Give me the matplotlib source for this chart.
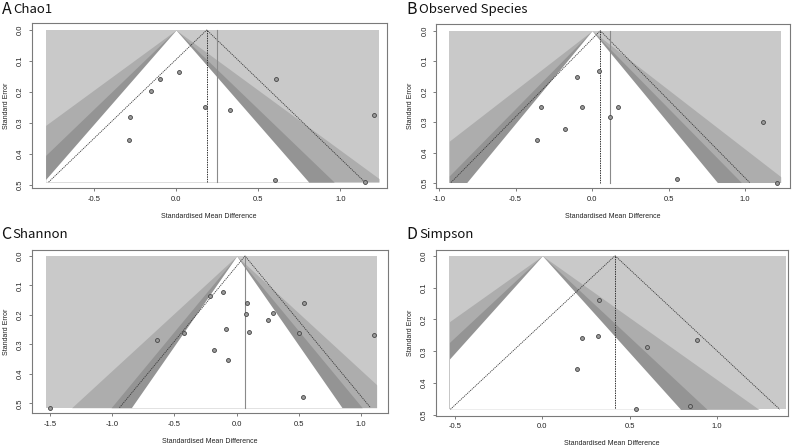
import numpy as np
import matplotlib
matplotlib.use("Agg")
import matplotlib.pyplot as plt

plt.rcParams['font.family'] = ['Liberation Sans', 'DejaVu Sans']

# contour levels (z for p = 0.10, 0.05, 0.01)
z_levels = [2.576, 1.96, 1.645]
shade_cols = ['#adadad', '#949494', 'white']
back_col = '#c9c9c9'

# A  Chao1
chao1_smd = [-0.097, 0.02, -0.152, -0.28, -0.284, 0.174, 0.331, 0.608, 0.604, 1.148, 1.205]
chao1_se = [0.159, 0.135, 0.196, 0.28, 0.355, 0.249, 0.258, 0.158, 0.485, 0.491, 0.273]
chao1_est = 0.187
chao1_adj = 0.249

# B  Observed Species
obs_smd = [0.046, -0.10, -0.333, -0.063, 0.172, 0.116, -0.176, -0.36, 0.555, 1.12, 1.207]
obs_se = [0.131, 0.151, 0.249, 0.25, 0.251, 0.284, 0.322, 0.357, 0.485, 0.30, 0.498]
obs_est = 0.054
obs_adj = 0.118

# C  Shannon
shannon_smd = [-1.5, -0.643, -0.42, -0.214, -0.107, -0.088, -0.185, -0.072, 0.083,
               0.078, 0.10, 0.295, 0.254, 0.538, 0.50, 1.104, 0.536]
shannon_se = [0.515, 0.285, 0.262, 0.136, 0.121, 0.249, 0.319, 0.352, 0.158,
              0.196, 0.257, 0.195, 0.218, 0.158, 0.26, 0.267, 0.48]
shannon_est = 0.067
shannon_adj = 0.064

# D  Simpson
simpson_smd = [0.325, 0.226, 0.317, 0.598, 0.885, 0.197, 0.535, 0.847]
simpson_se = [0.138, 0.258, 0.252, 0.287, 0.266, 0.356, 0.482, 0.473]
simpson_est = 0.417
simpson_adj = None

xticks_a = [-0.5, 0.0, 0.5, 1.0]
xticks_b = [-1.0, -0.5, 0.0, 0.5, 1.0]
xticks_c = [-1.5, -1.0, -0.5, 0.0, 0.5, 1.0]
xticks_d = [-0.5, 0.0, 0.5, 1.0]
yticks = [0.0, 0.1, 0.2, 0.3, 0.4, 0.5]

W, H = 800, 447
fig = plt.figure(figsize=(W / 100, H / 100), dpi=100)


def funnel(box, smd, se, est, adj, shade_x, se_max, view_x, view_y, xticks, title, title_pos):
    l, t, r, b = box
    ax = fig.add_axes([l / W, 1 - b / H, (r - l) / W, (b - t) / H])
    xlo, xhi = shade_x
    ax.fill_between([xlo, xhi], 0, se_max, color=back_col, lw=0, zorder=1)
    s = np.linspace(0, se_max, 300)
    for z, c in zip(z_levels, shade_cols):
        ax.fill_betweenx(s, np.clip(-z * s, xlo, xhi), np.clip(z * s, xlo, xhi),
                         color=c, lw=0, zorder=2)
    # pseudo confidence funnel around the estimate
    ax.plot([est - 1.96 * se_max, est, est + 1.96 * se_max], [se_max, 0, se_max],
            ls=(0, (1.5, 1)), color='#3a3a3a', lw=0.6, zorder=3)
    ax.plot([est, est], [0, se_max], ls=(0, (1.5, 1)), color='#333333', lw=0.7, zorder=3)
    if adj is not None:
        ax.plot([adj, adj], [0, se_max], color='#8a8a8a', lw=0.8, zorder=3)
    ax.scatter(smd, se, s=8, facecolor='#9a9a9a', edgecolor='#444444', lw=0.6, zorder=5)
    ax.set_xlim(*view_x)
    ax.set_ylim(*view_y)
    ax.set_xticks(xticks)
    ax.set_xticklabels([f'{v:.1f}' for v in xticks])
    ax.set_yticks(yticks)
    ax.set_yticklabels([f'{v:.1f}' for v in yticks], rotation=90, va='center')
    ax.tick_params(labelsize=5.5, length=2.5, width=0.6, color='#666666',
                   labelcolor='#222222', pad=3)
    for sp in ax.spines.values():
        sp.set_color('#7a7a7a')
        sp.set_linewidth(0.8)
    ax.set_xlabel('Standardised Mean Difference', fontsize=5, color='#222222', labelpad=7)
    ax.set_ylabel('Standard Error', fontsize=5, color='#222222', labelpad=5)
    letter, name = title
    lx, nx, ty = title_pos
    fig.text(lx / W, 1 - ty / H, letter, fontsize=11.5, va='center', ha='left',
             family=['Noto Sans CJK SC', 'DejaVu Sans'], color='#111111')
    fig.text(nx / W, 1 - ty / H, name, fontsize=9.5, va='center', ha='left',
             family=['Noto Sans CJK SC', 'DejaVu Sans'], color='#111111')
    return ax


funnel((31.7, 23.3, 386.7, 188.3), chao1_smd, chao1_se, chao1_est, chao1_adj,
       (-0.793, 1.235), 0.491, (-0.878, 1.282), (0.511, -0.0216), xticks_a,
       ('A', 'Chao1'), (2, 13, 9.5))
funnel((436, 24.3, 790, 188.3), obs_smd, obs_se, obs_est, obs_adj,
       (-0.933, 1.233), 0.498, (-1.02, 1.294), (0.517, -0.021), xticks_b,
       ('B', 'Observed Species'), (406, 419, 9.5))
funnel((31.7, 250, 388.3, 413.3), shannon_smd, shannon_se, shannon_est, shannon_adj,
       (-1.535, 1.125), 0.515, (-1.648, 1.219), (0.534, -0.0204), xticks_c,
       ('C', 'Shannon'), (1, 12.5, 234.5))
funnel((435.7, 250, 788.3, 415.7), simpson_smd, simpson_se, simpson_est, simpson_adj,
       (-0.533, 1.396), 0.482, (-0.612, 1.411), (0.502, -0.018), xticks_d,
       ('D', 'Simpson'), (406, 419, 234.5))

fig.savefig('out.png', dpi=100)
